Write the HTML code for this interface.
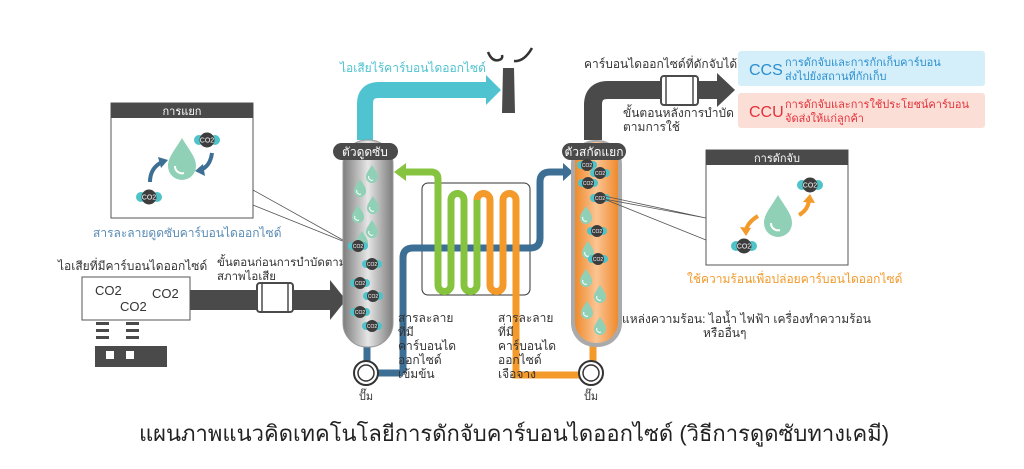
<!DOCTYPE html>
<html><head><meta charset="utf-8"><style>
html,body{margin:0;padding:0;background:#fff;}
svg{display:block;font-family:"Liberation Sans","Noto Sans CJK SC",sans-serif;}
</style></head><body>
<svg width="1024" height="469" viewBox="0 0 1024 469" xmlns="http://www.w3.org/2000/svg">
<defs>
<linearGradient id="gc" x1="0" x2="1" y1="0" y2="0"><stop offset="0" stop-color="#7d7d7d"/><stop offset="0.5" stop-color="#e6e6e6"/><stop offset="1" stop-color="#7d7d7d"/></linearGradient>
<linearGradient id="oc" x1="0" x2="1" y1="0" y2="0"><stop offset="0" stop-color="#ef8a2c"/><stop offset="0.5" stop-color="#fbc595"/><stop offset="1" stop-color="#ef8a2c"/></linearGradient>
<g id="drop"><path d="M0,-9 C3,-4 6,-1 6,3 A6,6 0 0 1 -6,3 C-6,-1 -3,-4 0,-9Z" fill="#8fd0b6"/><path d="M-3,2 A3,3 0 0 0 1,6" stroke="#fff" stroke-width="1" fill="none"/></g>
<g id="mol"><circle cx="-6" cy="0" r="4" fill="#4ec3c9"/><circle cx="6" cy="0" r="4" fill="#4ec3c9"/><circle cx="0" cy="0" r="6" fill="#3d3d3d"/><text x="0" y="2" font-size="5" fill="#fff" text-anchor="middle">CO2</text></g>
<g id="bigdrop"><path d="M0,-22 C7,-10 14,-3 14,6 A14,14 0 0 1 -14,6 C-14,-3 -7,-10 0,-22Z" fill="#8fd0b6"/><path d="M-7,6 A7,7 0 0 0 2,13" stroke="#fff" stroke-width="2" fill="none"/></g>
<g id="bmol"><circle cx="-8" cy="0" r="5" fill="#4ec3c9"/><circle cx="8" cy="0" r="5" fill="#4ec3c9"/><circle cx="0" cy="0" r="7.5" fill="#3d3d3d"/><text x="0" y="2.5" font-size="7" fill="#fff" text-anchor="middle">CO2</text></g>
</defs>

<!-- cyan pipe -->
<path d="M365,140 V104 Q365,90 379,90 H487" stroke="#4fc3d0" stroke-width="16" fill="none"/>
<polygon points="486,75 501,90 486,105" fill="#4fc3d0"/>
<text x="340" y="72" font-size="12" fill="#4fc3d0">ไอเสียไร้คาร์บอนไดออกไซด์</text>
<!-- chimney -->
<polygon points="503,68 514,68 515,113 502,113" fill="#4a4a4a"/>
<path d="M488,52 Q492,62 499,60 Q503,59 502,55 M514,61 Q524,62 532,48" stroke="#333" stroke-width="2.5" fill="none"/>

<!-- gray pipe right -->
<path d="M593,140 V105 Q593,90 608,90 H718" stroke="#4a4a4a" stroke-width="18" fill="none"/>
<polygon points="717,73 735,90 717,107" fill="#4a4a4a"/>
<rect x="661" y="76" width="37" height="29" rx="3" fill="#fff" stroke="#4a4a4a" stroke-width="2"/>
<line x1="666" y1="76" x2="666" y2="105" stroke="#4a4a4a" stroke-width="1.5"/><line x1="693" y1="76" x2="693" y2="105" stroke="#4a4a4a" stroke-width="1.5"/>
<text x="584" y="68" font-size="12" fill="#333">คาร์บอนไดออกไซด์ที่ดักจับได้</text>
<text x="623" y="117" font-size="12" fill="#333">ขั้นตอนหลังการบำบัด</text>
<text x="623" y="131" font-size="12" fill="#333">ตามการใช้</text>

<!-- CCS / CCU -->
<rect x="738" y="51" width="247" height="35" rx="3" fill="#d4eefa"/>
<text x="749" y="75" font-size="16" fill="#2a8fd0">CCS</text>
<text x="785" y="66" font-size="11" fill="#2a8fd0">การดักจับและการกักเก็บคาร์บอน</text>
<text x="785" y="80" font-size="11" fill="#2a8fd0">ส่งไปยังสถานที่กักเก็บ</text>
<rect x="738" y="93" width="247" height="35" rx="3" fill="#fbdfd7"/>
<text x="749" y="117" font-size="16" fill="#e5303a">CCU</text>
<text x="785" y="108" font-size="11" fill="#e5303a">การดักจับและการใช้ประโยชน์คาร์บอน</text>
<text x="785" y="122" font-size="11" fill="#e5303a">จัดส่งให้แก่ลูกค้า</text>

<!-- left box -->
<rect x="111" y="103" width="142" height="115" fill="#fff" stroke="#555" stroke-width="1"/>
<rect x="111" y="103" width="142" height="15" fill="#4a4a4a"/>
<text x="182" y="115" font-size="11" fill="#fff" text-anchor="middle">การแยก</text>
<use href="#bigdrop" x="182" y="160"/>
<use href="#bmol" x="207" y="140"/>
<use href="#bmol" x="149" y="197"/>
<path d="M150,182 Q150,168 162,162" stroke="#3d6f95" stroke-width="4" fill="none"/><polygon points="158,157 168,160 161,168" fill="#3d6f95"/>
<path d="M212,153 Q210,167 200,170" stroke="#3d6f95" stroke-width="4" fill="none"/><polygon points="203,164 195,171 205,176" fill="#3d6f95"/>
<polyline points="253,190 350,244 253,205" fill="none" stroke="#555" stroke-width="0.8"/>
<text x="93" y="237" font-size="12" fill="#5a8cb5">สารละลายดูดซับคาร์บอนไดออกไซด์</text>

<!-- exhaust source -->
<text x="58" y="270" font-size="12" fill="#333">ไอเสียที่มีคาร์บอนไดออกไซด์</text>
<rect x="82" y="277" width="108" height="43" fill="#fff" stroke="#555" stroke-width="1"/>
<text x="95" y="295" font-size="13" fill="#333">CO2</text>
<text x="152" y="298" font-size="13" fill="#333">CO2</text>
<text x="120" y="311" font-size="13" fill="#333">CO2</text>
<g fill="#4a4a4a"><rect x="96" y="322" width="13" height="3"/><rect x="96" y="329" width="13" height="3"/><rect x="96" y="336" width="13" height="3"/><rect x="126" y="322" width="13" height="3"/><rect x="126" y="329" width="13" height="3"/><rect x="126" y="336" width="13" height="3"/></g>
<rect x="95" y="346" width="72" height="21" fill="#4a4a4a"/>
<rect x="106" y="351" width="8" height="8" fill="#fff"/><rect x="126" y="351" width="8" height="8" fill="#fff"/>
<rect x="190" y="290" width="142" height="20" fill="#4a4a4a"/>
<polygon points="330,280 346,300 330,320" fill="#4a4a4a"/>
<rect x="257" y="283" width="36" height="29" rx="3" fill="#fff" stroke="#4a4a4a" stroke-width="2"/>
<line x1="262" y1="283" x2="262" y2="312" stroke="#4a4a4a" stroke-width="1.5"/><line x1="288" y1="283" x2="288" y2="312" stroke="#4a4a4a" stroke-width="1.5"/>
<text x="217" y="266" font-size="11.5" fill="#333">ขั้นตอนก่อนการบำบัดตาม</text>
<text x="217" y="280" font-size="11.5" fill="#333">สภาพไอเสีย</text>

<!-- pipes center -->
<rect x="422" y="183" width="108" height="112" rx="6" fill="none" stroke="#333" stroke-width="1"/>
<path d="M403,373 V258 Q403,248 413,248 H530 Q540,248 540,238 V182 Q540,172 550,172 H565" stroke="#3d6f95" stroke-width="7" fill="none"/>
<polygon points="563,163 573,172 563,181" fill="#3d6f95"/>
<path d="M367,345 V362 M378,373 H403" stroke="#3d6f95" stroke-width="7" fill="none"/>
<path d="M405,172 H431 Q438,172 438,179 V285 A6.5,6.5 0 0 0 451,285 V200 A6.5,6.5 0 0 1 464,200 V285 A6.5,6.5 0 0 0 477,285 V200" stroke="#86c440" stroke-width="7" fill="none"/>
<polygon points="406,163 394,172 406,181" fill="#86c440"/>
<path d="M477,200 A6.5,6.5 0 0 1 490,200 V285 A6.5,6.5 0 0 0 503,285 V200 A6.5,6.5 0 0 1 516,200 V375 H580 M593,362 V345" stroke="#f39a2b" stroke-width="7" fill="none"/>

<!-- columns -->
<rect x="343" y="140" width="50" height="207" rx="24" fill="url(#gc)" stroke="#999" stroke-width="1"/>
<rect x="571" y="140" width="51" height="207" rx="24" fill="#aaa"/>
<rect x="575" y="142" width="43" height="201" rx="21" fill="url(#oc)"/>
<rect x="333" y="143" width="65" height="17" rx="8.5" fill="#4a4a4a"/>
<text x="365" y="156" font-size="12" fill="#fff" text-anchor="middle">ตัวดูดซับ</text>
<rect x="562" y="143" width="64" height="17" rx="8.5" fill="#4a4a4a"/>
<text x="594" y="156" font-size="12" fill="#fff" text-anchor="middle">ตัวสกัดแยก</text>
<g>
<use href="#drop" x="372" y="174"/><use href="#drop" x="360" y="188"/><use href="#drop" x="373" y="205"/><use href="#drop" x="358" y="214"/><use href="#drop" x="372" y="229"/><use href="#drop" x="362" y="240"/>
<use href="#mol" x="358" y="246"/><use href="#mol" x="372" y="264"/><use href="#mol" x="360" y="283"/><use href="#mol" x="373" y="296"/><use href="#mol" x="360" y="312"/><use href="#mol" x="372" y="326"/>
</g>
<g>
<use href="#mol" x="587" y="165"/><use href="#mol" x="600" y="173"/><use href="#mol" x="588" y="183"/><use href="#mol" x="600" y="198"/>
<use href="#drop" x="586" y="215"/><use href="#mol" x="597" y="231"/><use href="#drop" x="588" y="250"/><use href="#mol" x="598" y="259"/><use href="#drop" x="586" y="278"/><use href="#drop" x="600" y="294"/><use href="#drop" x="587" y="310"/><use href="#drop" x="600" y="326"/>
</g>
<polyline points="604,196 706,218 604,199 706,240" fill="none" stroke="#555" stroke-width="0.8"/>

<!-- pumps -->
<circle cx="366" cy="373" r="12" fill="#fff" stroke="#333" stroke-width="2"/><circle cx="366" cy="373" r="8" fill="#fff" stroke="#333" stroke-width="1.5"/>
<circle cx="591" cy="373" r="12" fill="#fff" stroke="#333" stroke-width="2"/><circle cx="591" cy="373" r="8" fill="#fff" stroke="#333" stroke-width="1.5"/>
<text x="366" y="400" font-size="11" fill="#333" text-anchor="middle">ปั๊ม</text>
<text x="591" y="400" font-size="11" fill="#333" text-anchor="middle">ปั๊ม</text>

<g font-size="12" fill="#333">
<text x="398" y="322">สารละลาย</text><text x="398" y="336">ที่มี</text><text x="398" y="350">คาร์บอนได</text><text x="398" y="364">ออกไซด์</text><text x="398" y="378">เข้มข้น</text>
<text x="498" y="322">สารละลาย</text><text x="498" y="336">ที่มี</text><text x="498" y="350">คาร์บอนได</text><text x="498" y="364">ออกไซด์</text><text x="498" y="378">เจือจาง</text>
<text x="622" y="323">แหล่งความร้อน: ไอน้ำ ไฟฟ้า เครื่องทำความร้อน</text>
<text x="703" y="337">หรืออื่นๆ</text>
</g>

<!-- right box -->
<rect x="706" y="150" width="142" height="115" fill="#fff" stroke="#555" stroke-width="1"/>
<rect x="706" y="150" width="142" height="15" fill="#4a4a4a"/>
<text x="777" y="162" font-size="11" fill="#fff" text-anchor="middle">การดักจับ</text>
<use href="#bigdrop" x="778" y="217"/>
<use href="#bmol" x="810" y="185"/>
<use href="#bmol" x="744" y="246"/>
<path d="M758,216 Q748,222 746,230" stroke="#f39a2b" stroke-width="4" fill="none"/><polygon points="740,227 746,236 751,228" fill="#f39a2b"/>
<path d="M799,215 Q808,210 809,200" stroke="#f39a2b" stroke-width="4" fill="none"/><polygon points="803,202 810,194 815,203" fill="#f39a2b"/>
<text x="687" y="283" font-size="12" fill="#f39a2b">ใช้ความร้อนเพื่อปล่อยคาร์บอนไดออกไซด์</text>

<text x="514" y="441" font-size="22" fill="#222" text-anchor="middle">แผนภาพแนวคิดเทคโนโลยีการดักจับคาร์บอนไดออกไซด์ (วิธีการดูดซับทางเคมี)</text>
</svg>
</body></html>
